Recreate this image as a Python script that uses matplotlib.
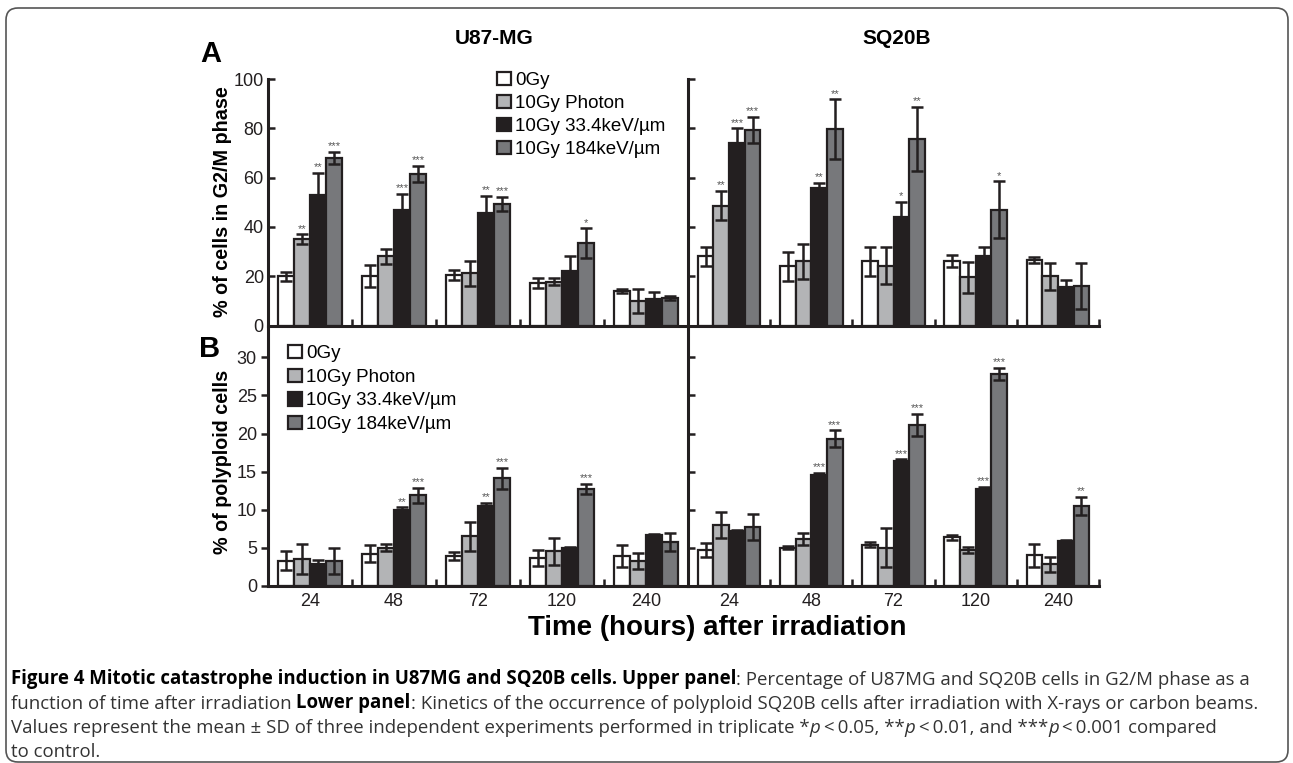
''' Mitotic catastrophe induction in U87MG and SQ20B cells (Figure 4). '''

import numpy as np
import matplotlib
matplotlib.use("Agg")
import matplotlib.pyplot as plt
from matplotlib.patches import FancyBboxPatch
from matplotlib.transforms import IdentityTransform

plt.rcParams['font.family'] = ['Liberation Sans', 'DejaVu Sans']

TIMES = ["24", "48", "72", "120", "240"]
SERIES = ["0Gy", "10Gy Photon", "10Gy 33.4keV/\u00b5m", "10Gy 184keV/\u00b5m"]

# upper panel: % of cells in G2/M phase (one row per series)
U87_G2M_MEAN = [[20, 20, 20.5, 17.2, 14],
                [35, 28, 21.2, 17.8, 10],
                [53, 47, 45.5, 22.2, 10.7],
                [68, 61.5, 49.3, 33.4, 11]]
U87_G2M_SD = [[1.8, 4.5, 2.2, 1.9, 0.8],
              [2, 3, 5, 1.5, 5],
              [9, 6.5, 7, 6, 3],
              [2.5, 3.4, 3, 6, 0.8]]
U87_G2M_STARS = [["", "", "", "", ""],
                 ["**", "", "", "", ""],
                 ["**", "***", "**", "", ""],
                 ["***", "***", "***", "*", ""]]

SQ20B_G2M_MEAN = [[28, 24, 26, 26.2, 26.6],
                  [48.6, 26, 24.3, 19.5, 20],
                  [74, 55.7, 44, 28, 15.8],
                  [79.3, 79.7, 75.7, 47, 16]]
SQ20B_G2M_SD = [[4, 6, 6, 2.5, 1.2],
                [5.9, 7, 7.5, 6.3, 5.4],
                [6, 2, 6, 4, 2.7],
                [5.3, 12, 13, 11.5, 9.3]]
SQ20B_G2M_STARS = [["", "", "", "", ""],
                   ["**", "", "", "", ""],
                   ["***", "**", "*", "", ""],
                   ["***", "**", "**", "*", ""]]

# lower panel: % of polyploid cells
U87_POLY_MEAN = [[3.3, 4.2, 3.9, 3.7, 3.9],
                 [3.5, 5.0, 6.5, 4.5, 3.2],
                 [2.9, 10.0, 10.5, 5.0, 6.7],
                 [3.3, 11.9, 14.1, 12.7, 5.7]]
U87_POLY_SD = [[1.3, 1.1, 0.5, 1.05, 1.5],
               [2, 0.5, 1.9, 1.8, 1.05],
               [0.5, 0.3, 0.4, 0.1, 0.1],
               [1.7, 1.0, 1.4, 0.7, 1.2]]
U87_POLY_STARS = [["", "", "", "", ""],
                  ["", "", "", "", ""],
                  ["", "**", "**", "", ""],
                  ["", "***", "***", "***", ""]]

SQ20B_POLY_MEAN = [[4.7, 5.0, 5.4, 6.35, 4.0],
                   [8.0, 6.1, 5.0, 4.7, 2.8],
                   [7.2, 14.6, 16.4, 12.7, 5.9],
                   [7.75, 19.3, 21.1, 27.8, 10.5]]
SQ20B_POLY_SD = [[0.9, 0.2, 0.3, 0.3, 1.5],
                 [1.7, 0.8, 2.6, 0.35, 0.95],
                 [0.1, 0.2, 0.2, 0.3, 0.1],
                 [1.7, 1.1, 1.45, 0.8, 1.2]]
SQ20B_POLY_STARS = [["", "", "", "", ""],
                    ["", "", "", "", ""],
                    ["", "***", "***", "***", ""],
                    ["", "***", "***", "***", "**"]]

COLORS = ["#ffffff", "#b3b4b6", "#231f20", "#77787b"]
EDGE = "#231f20"
BAR_W = 0.19
LW = 1.8

W, H = 1293, 763


def rect(x, y, w, h):
    ''' pixel box (from top-left) -> figure fraction '''
    return [x / W, 1 - (y + h) / H, w / W, h / H]


def draw_panel(ax, means, sds, stars, ymax, yticks, labels_y, labels_x, ydir):
    x = np.arange(len(TIMES))
    for i in range(len(SERIES)):
        xi = x + (i - 1.5) * BAR_W
        ax.bar(xi, means[i], BAR_W, color=COLORS[i], edgecolor=EDGE,
               linewidth=1.6, label=SERIES[i], zorder=2)
        ax.errorbar(xi, means[i], yerr=sds[i], fmt='none', ecolor=EDGE,
                    elinewidth=LW, capsize=4, capthick=LW, zorder=3)
        for xx, mm, ss, tt in zip(xi, means[i], sds[i], stars[i]):
            if tt:
                ax.annotate(tt, (xx, mm + ss), xytext=(0, 0.5), textcoords='offset points',
                            ha='center', va='bottom', fontsize=8, color='#555555')

    ax.set_xlim(-0.5, len(TIMES) - 0.5)
    ax.set_ylim(0, ymax)
    ax.set_facecolor('none')
    for side in ('top', 'right'):
        ax.spines[side].set_visible(False)
    for side in ('left', 'bottom'):
        ax.spines[side].set_linewidth(LW + 0.4)
        ax.spines[side].set_color(EDGE)

    ax.set_xticks(x, TIMES if labels_x else [])
    ax.set_xticks(x + 0.5, minor=True)
    ax.tick_params(axis='x', which='major', length=0, pad=5, labelsize=13, colors=EDGE)
    ax.tick_params(axis='x', which='minor', direction='in', length=5, width=LW, color=EDGE)

    ax.set_yticks(yticks, [str(t) for t in yticks] if labels_y else [])
    ax.tick_params(axis='y', direction=ydir, length=5, width=LW, pad=3,
                   labelsize=13, colors=EDGE)


fig = plt.figure(figsize=(W / 100, H / 100), dpi=100)

ax_tl = fig.add_axes(rect(268, 79, 420, 246.5))
ax_tr = fig.add_axes(rect(688, 79, 411, 246.5))
ax_bl = fig.add_axes(rect(268, 327, 420, 258.7))
ax_br = fig.add_axes(rect(688, 327, 411, 258.7))

draw_panel(ax_tl, U87_G2M_MEAN, U87_G2M_SD, U87_G2M_STARS, 100, range(0, 101, 20), True, False, 'in')
draw_panel(ax_tr, SQ20B_G2M_MEAN, SQ20B_G2M_SD, SQ20B_G2M_STARS, 100, range(0, 101, 20), False, False, 'in')
draw_panel(ax_bl, U87_POLY_MEAN, U87_POLY_SD, U87_POLY_STARS, 34, range(0, 31, 5), True, True, 'out')
draw_panel(ax_br, SQ20B_POLY_MEAN, SQ20B_POLY_SD, SQ20B_POLY_STARS, 34, range(0, 31, 5), False, True, 'in')

for ax, (lx, ly, sp) in ((ax_tl, (497, 72, 0.3)), (ax_bl, (288, 345, 0.34))):
    ax.legend(loc='upper left', bbox_to_anchor=(lx / W, 1 - ly / H),
              bbox_transform=fig.transFigure, frameon=False, fontsize=13.5,
              handlelength=0.72, handleheight=0.72, handletextpad=0.25,
              labelspacing=sp, borderaxespad=0, borderpad=0)

fig.text(494 / W, 1 - 38 / H, "U87-MG", fontsize=15, fontweight='bold', ha='center', va='center')
fig.text(897 / W, 1 - 38 / H, "SQ20B", fontsize=15, fontweight='bold', ha='center', va='center')
fig.text(211 / W, 1 - 54 / H, "A", fontsize=21, fontweight='bold', ha='center', va='center')
fig.text(210 / W, 1 - 349 / H, "B", fontsize=21, fontweight='bold', ha='center', va='center')
fig.text(222 / W, 1 - 202 / H, "% of cells in G2/M phase", fontsize=14.2, fontweight='bold',
         rotation=90, ha='center', va='center')
fig.text(222 / W, 1 - 462 / H, "% of polyploid cells", fontsize=14.2, fontweight='bold',
         rotation=90, ha='center', va='center')
fig.text(528 / W, 1 - 628 / H, "Time (hours) after irradiation", fontsize=20,
         fontweight='bold', ha='left', va='center')

# caption, built piece by piece so bold / italic parts line up
THIN = "\u2009"
CAPTION = [
    [("Figure 4 Mitotic catastrophe induction in U87MG and SQ20B cells. Upper panel", 'bold', 'normal', 0),
     (": Percentage of U87MG and SQ20B cells in G2/M phase as a", 'normal', 'normal', 0)],
    [("function of time after irradiation", 'normal', 'normal', 0),
     ("Lower panel", 'bold', 'normal', 3.5),
     (": Kinetics of the occurrence of polyploid SQ20B cells after irradiation with X-rays or carbon beams.",
      'normal', 'normal', 0)],
    [("Values represent the mean \u00b1 SD of three independent experiments performed in triplicate *",
      'normal', 'normal', 0),
     ("p", 'normal', 'italic', 0),
     ("<" + THIN + "0.05, **", 'normal', 'normal', 2.5),
     ("p", 'normal', 'italic', 0),
     ("<" + THIN + "0.01, and ***", 'normal', 'normal', 2.5),
     ("p", 'normal', 'italic', 0),
     ("<" + THIN + "0.001 compared", 'normal', 'normal', 2.5)],
    [("to control.", 'normal', 'normal', 0)],
]
CAPTION_Y = [689, 713, 737, 761]

for line, ypix in zip(CAPTION, CAPTION_Y):
    prev = None
    for txt, weight, style, gap in line:
        color = '#000000' if weight == 'bold' else '#333333'
        kw = dict(fontsize=13.4, fontweight=weight, fontstyle=style, color=color,
                  family=['Open Sans', 'DejaVu Sans'], ha='left', va='bottom')
        if prev is None:
            prev = fig.text(11 / W, 1 - ypix / H, txt, **kw)
        else:
            prev = ax_tl.annotate(txt, xy=(1, 0), xycoords=prev, xytext=(gap, 0),
                                  textcoords='offset points', annotation_clip=False, **kw)

frame = FancyBboxPatch((6, 1), 1282, 754, boxstyle='round,pad=0,rounding_size=12',
                       transform=IdentityTransform(), facecolor='none',
                       edgecolor='#555555', linewidth=1.2)
fig.patches.append(frame)

fig.savefig("out.png", dpi=100)
